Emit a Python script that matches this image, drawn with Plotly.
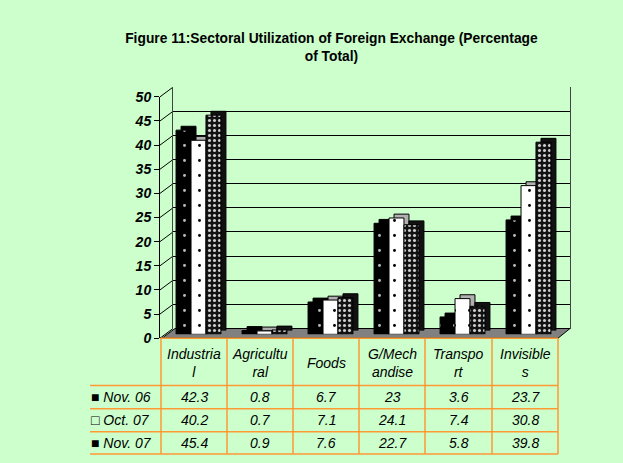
import plotly.graph_objects as go

# 데이터
sectors = ['Industrial', 'Agricultural', 'Foods', 'G/Mechandise', 'Transport', 'Invisibles']
header_labels = ['Industria<br>l', 'Agricultu<br>ral', 'Foods', 'G/Mech<br>andise', 'Transpo<br>rt', 'Invisible<br>s']
nov06 = [42.3, 0.8, 6.7, 23, 3.6, 23.7]
oct07 = [40.2, 0.7, 7.1, 24.1, 7.4, 30.8]
nov07 = [45.4, 0.9, 7.6, 22.7, 5.8, 39.8]
series_names = ['Nov. 06', 'Oct. 07', 'Nov. 07']
legend_keys = ['■', '□', '■']
y_ticks = [0, 5, 10, 15, 20, 25, 30, 35, 40, 45, 50]

W, H = 623, 463
BG = '#CCFFCC'
ORANGE = '#FF9933'
FONT = 'Liberation Sans, Arial, sans-serif'


def px_x(v):
    return v / W


def px_y(v):
    return 1 - v / H


# 위치 (픽셀): 앞 축 / 막대 앞면 / 막대 깊이 / 뒷벽
axis_x, axis_bottom, axis_top = 160, 342, 92
bar_left, bar_right, bar_bottom, bar_top = 162, 558, 338, 88
depth_dx, depth_dy = 5, 4
back_left, back_right, back_bottom, back_top = 173, 570, 332, 82
x_range = [-0.553, 5.447]

styles = [
    dict(bgcolor='black', fgcolor='#bbbbbb', size=15, solidity=0.03, side='black'),
    dict(bgcolor='white', fgcolor='black', size=15, solidity=0.03, side='#b0b0b0'),
    dict(bgcolor='#111111', fgcolor='#d0d0d0', size=5, solidity=0.3, side='#111111'),
]
series = [nov06, oct07, nov07]

fig = go.Figure()

# 뒷벽 서브플롯 (빈 트레이스)
fig.add_trace(go.Scatter(x=[], y=[], xaxis='x', yaxis='y', showlegend=False, hoverinfo='skip'))

# 막대 깊이 (뒤쪽 면)
for name, vals, st in zip(series_names, series, styles):
    fig.add_trace(go.Bar(
        x=list(range(len(sectors))), y=vals, name=name, xaxis='x2', yaxis='y2',
        marker=dict(color=st['side'], line=dict(color='black', width=1)),
        showlegend=False, hoverinfo='skip',
    ))

# 막대 앞면
for name, vals, st in zip(series_names, series, styles):
    fig.add_trace(go.Bar(
        x=list(range(len(sectors))), y=vals, name=name, xaxis='x3', yaxis='y3',
        marker=dict(color=st['bgcolor'], line=dict(color='black', width=1),
                    pattern=dict(shape='.', fgcolor=st['fgcolor'], bgcolor=st['bgcolor'],
                                 size=st['size'], solidity=st['solidity'], fillmode='replace')),
        showlegend=False, hoverinfo='skip',
    ))

# 앞 y축 서브플롯 (빈 트레이스)
fig.add_trace(go.Scatter(x=[], y=[], xaxis='x4', yaxis='y4', showlegend=False, hoverinfo='skip'))

# 3D 느낌의 바닥과 왼쪽 벽 사선
shapes = [dict(type='path', xref='paper', yref='paper',
               path=f'M {px_x(bar_left)} {px_y(axis_bottom)} L {px_x(bar_right)} {px_y(axis_bottom)} '
                    f'L {px_x(back_right)} {px_y(back_bottom)} L {px_x(back_left + 2)} {px_y(back_bottom)} Z',
               fillcolor='#808080', line=dict(color='black', width=1), layer='below')]
for t in y_ticks:
    yf = axis_bottom - (axis_bottom - axis_top) * t / 50
    yb = back_bottom - (back_bottom - back_top) * t / 50
    shapes.append(dict(type='line', xref='paper', yref='paper',
                       x0=px_x(axis_x), y0=px_y(yf), x1=px_x(back_left), y1=px_y(yb),
                       line=dict(color='black', width=1), layer='below'))

# 표 (주황 테두리)
col_edges = [161, 227, 293, 359, 425, 492, 558]
row_edges = [342, 391, 415, 439, 462]
line = dict(color=ORANGE, width=1.5)
for xe in col_edges:
    shapes.append(dict(type='line', xref='paper', yref='paper', x0=px_x(xe), x1=px_x(xe),
                       y0=px_y(row_edges[0]), y1=px_y(row_edges[-1]), line=line))
shapes.append(dict(type='line', xref='paper', yref='paper', x0=px_x(col_edges[0]), x1=px_x(col_edges[-1]),
                   y0=px_y(row_edges[0]), y1=px_y(row_edges[0]), line=line))
for ye in row_edges[1:]:
    shapes.append(dict(type='line', xref='paper', yref='paper', x0=px_x(90), x1=px_x(col_edges[-1]),
                       y0=px_y(ye), y1=px_y(ye), line=line))

annotations = []
tfont = dict(family=FONT, size=14, color='black')
for i, h in enumerate(header_labels):
    cx = (col_edges[i] + col_edges[i + 1]) / 2
    annotations.append(dict(x=px_x(cx), y=px_y((row_edges[0] + row_edges[1]) / 2 + 1), xref='paper', yref='paper',
                            text=f'<i>{h}</i>', showarrow=False, font=tfont, xanchor='center', yanchor='middle'))
for r, (key, name, vals) in enumerate(zip(legend_keys, series_names, series)):
    cy = (row_edges[r + 1] + row_edges[r + 2]) / 2
    annotations.append(dict(x=px_x(89), y=px_y(cy), xref='paper', yref='paper',
                            text=f'<span style="font-size:14px">{key}</span> <i>{name}</i>',
                            showarrow=False, font=tfont, xanchor='left', yanchor='middle'))
    for i, v in enumerate(vals):
        cx = (col_edges[i] + col_edges[i + 1]) / 2
        annotations.append(dict(x=px_x(cx), y=px_y(cy), xref='paper', yref='paper',
                                text=f'<i>{v:g}</i>', showarrow=False, font=tfont,
                                xanchor='center', yanchor='middle'))

fig.update_layout(
    width=W, height=H,
    margin=dict(l=0, r=0, t=0, b=0),
    paper_bgcolor=BG, plot_bgcolor='rgba(0,0,0,0)',
    title=dict(text='<b>Figure 11:Sectoral Utilization of Foreign Exchange (Percentage<br>of Total)</b>',
               x=0.532, xanchor='center', y=px_y(43), yanchor='top',
               font=dict(family=FONT, size=13.8, color='black')),
    barmode='group', bargap=0.32, bargroupgap=0,
    # 뒷벽 격자
    xaxis=dict(domain=[px_x(back_left), px_x(back_right)], range=[0, 1],
               showticklabels=False, showgrid=False, zeroline=False, ticks=''),
    yaxis=dict(domain=[px_y(back_bottom), px_y(back_top)], range=[0, 50],
               tickvals=y_ticks, showticklabels=False, ticks='',
               showgrid=True, gridcolor='black', gridwidth=1, zeroline=False,
               showline=True, linecolor='#444444', linewidth=1, mirror=True),
    # 막대 깊이
    xaxis2=dict(domain=[px_x(bar_left + depth_dx), px_x(bar_right + depth_dx)], range=x_range,
                anchor='y2', visible=False),
    yaxis2=dict(domain=[px_y(bar_bottom - depth_dy), px_y(bar_top - depth_dy)], range=[0, 50],
                anchor='x2', visible=False),
    # 막대 앞면
    xaxis3=dict(domain=[px_x(bar_left), px_x(bar_right)], range=x_range,
                anchor='y3', visible=False),
    yaxis3=dict(domain=[px_y(bar_bottom), px_y(bar_top)], range=[0, 50],
                anchor='x3', visible=False),
    # 앞 y축
    xaxis4=dict(domain=[px_x(axis_x), px_x(bar_right)], range=[0, 1], anchor='y4', visible=False),
    yaxis4=dict(domain=[px_y(axis_bottom), px_y(axis_top)], range=[0, 50], anchor='x4',
                tickvals=y_ticks, ticks='outside', ticklen=5, tickcolor='black',
                showline=True, linecolor='black', showgrid=False, zeroline=False,
                tickfont=dict(family=FONT, size=14, color='black', weight='bold', style='italic')),
    shapes=shapes,
    annotations=annotations,
)

fig.write_html('out.html', config={'displayModeBar': False},
               post_script="document.body.style.margin='0';document.body.style.background='#CCFFCC';")
